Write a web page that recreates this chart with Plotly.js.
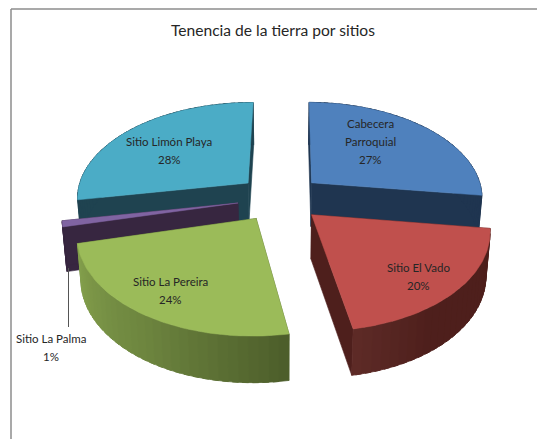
<!DOCTYPE html>
<html>
<head>
<meta charset="utf-8">
<script src="https://cdn.plot.ly/plotly-3.0.1.min.js"></script>
<style>html,body{margin:0;padding:0;background:#fff}#c{width:537px;height:439px}</style>
</head>
<body>
<div id="c"></div>
<script>
// ---- chart data ----
const categories = ['Cabecera<br>Parroquial', 'Sitio El Vado', 'Sitio La Pereira', 'Sitio La Palma', 'Sitio Limón Playa'];
const values = [27, 20, 24, 1, 28];
const chartTitle = 'Tenencia de la tierra por sitios';
// ---- styles ----
const topColors = ['#4f81bd', '#c0504d', '#9bbb59', '#8064a2', '#4bacc6'];
const faceColors = ['#1f3550', '#4e1f1c', '#4f612d', '#372640', '#1f4350'];
const wallStops = [['#1f3550', '#1f3550'], ['#4e1f1c', '#4e1f1c', '#4e1f1c', '#5e2b27'], ['#4c5d2a', '#6d853f', '#84a04c'], ['#372640', '#372640'], ['#1f4350', '#1f4350']];
const labelPos = [[370, 123], [418, 267], [170, 281], [51, 338], [169, 141]];
const lineGap = 18;

// pseudo-3D projection of an exploded disc onto the cartesian axes
const cx = 280, cy = 198, R = 172, tiltR = 95.4, persp = 0.137, explode = 0.248, rotation = 0.5;
function project(X, Y, low) {
  const s = 1 / (1 + persp * Y);
  return [cx + R * X * s * (low ? 0.98 : 1),
          cy - tiltR * Y * s + (low ? 31 + 13 * s : 0)];
}
function hex(c) { return [1, 3, 5].map(i => parseInt(c.substr(i, 2), 16)); }
function mix(stops, f) {
  const p = f * (stops.length - 1), i = Math.min(Math.floor(p), stops.length - 2), t = p - i;
  const a = hex(stops[i]), b = hex(stops[i + 1]);
  return 'rgb(' + a.map((v, k) => Math.round(v + (b[k] - v) * t)).join(',') + ')';
}
const total = values.reduce((a, b) => a + b, 0);
function polyTrace(pts, color, w) {
  const closed = pts.concat([pts[0]]);
  return {
    type: 'scatter', mode: 'lines', x: closed.map(p => p[0]), y: closed.map(p => p[1]),
    fill: 'toself', fillcolor: color, line: { color: color, width: w === undefined ? 0.6 : w },
    hoverinfo: 'skip', showlegend: false
  };
}
const slices = [];
let acc = 0;
const rot = rotation * Math.PI / 180;
values.forEach((v, i) => {
  const a0 = rot + acc / total * 2 * Math.PI, a1 = rot + (acc + v) / total * 2 * Math.PI;
  acc += v;
  const mid = (a0 + a1) / 2;
  slices.push({ i, a0, a1, ox: explode * Math.sin(mid), oy: explode * Math.cos(mid) });
});
// paint far slices first
slices.sort((a, b) => b.oy - a.oy);
const traces = [];
slices.forEach(sl => {
  const P = (r, a, low) => project(sl.ox + r * Math.sin(a), sl.oy + r * Math.cos(a), low);
  const face = faceColors[sl.i];
  // radial cut faces
  [sl.a0, sl.a1].forEach(a => {
    traces.push(polyTrace([P(0, a, 0), P(1, a, 0), P(1, a, 1), P(0, a, 1)], face));
  });
  // outer wall strips, each slightly overlapping the next
  const n = Math.max(2, Math.round((sl.a1 - sl.a0) / 0.05));
  const step = (sl.a1 - sl.a0) / n;
  for (let k = 0; k < n; k++) {
    const b0 = sl.a0 + step * k, b1 = Math.min(sl.a1, b0 + step * 1.6);
    traces.push(polyTrace([P(1, b0, 0), P(1, b1, 0), P(1, b1, 1), P(1, b0, 1)], mix(wallStops[sl.i], (k + 0.5) / n), 0.8));
  }
  // top face
  const top = [P(0, sl.a0, 0)];
  const m = 60;
  for (let k = 0; k <= m; k++) top.push(P(1, sl.a0 + (sl.a1 - sl.a0) * k / m, 0));
  traces.push(polyTrace(top, topColors[sl.i], 0.5));
});
// leader for the small slice
traces.push({
  type: 'scatter', mode: 'lines', x: [68.5, 68.5], y: [268, 327],
  line: { color: '#555555', width: 1 }, hoverinfo: 'skip', showlegend: false
});

const font = { family: 'Lato,"Open Sans",sans-serif', size: 11.5, color: '#262626' };
const annotations = [];
categories.forEach((name, i) => {
  const lines = name.split('<br>').concat([values[i] + '%']);
  lines.forEach((t, j) => annotations.push({
    x: labelPos[i][0], y: labelPos[i][1] + j * lineGap, xref: 'x', yref: 'y',
    text: t, showarrow: false, font: font, xanchor: 'center', yanchor: 'middle'
  }));
});
annotations.push({
  x: 273, y: 30, xref: 'x', yref: 'y', text: chartTitle, showarrow: false,
  font: { family: 'Lato,"Open Sans",sans-serif', size: 15.6, color: '#262626' }, xanchor: 'center', yanchor: 'middle'
});
const frame = { type: 'line', xref: 'x', yref: 'y', line: { color: '#8c8c8c', width: 1.5 } };
const layout = {
  width: 537, height: 439, margin: { l: 0, r: 0, t: 0, b: 0 },
  paper_bgcolor: '#ffffff', plot_bgcolor: '#ffffff', showlegend: false,
  xaxis: { range: [0, 537], visible: false, fixedrange: true },
  yaxis: { range: [439, 0], visible: false, fixedrange: true },
  annotations: annotations,
  shapes: [
    Object.assign({}, frame, { x0: 11, x1: 11, y0: 9, y1: 439 }),
    Object.assign({}, frame, { x0: 11, x1: 537, y0: 9, y1: 9 })
  ]
};
Plotly.newPlot('c', traces, layout, { displayModeBar: false, staticPlot: true });
</script>
</body>
</html>
